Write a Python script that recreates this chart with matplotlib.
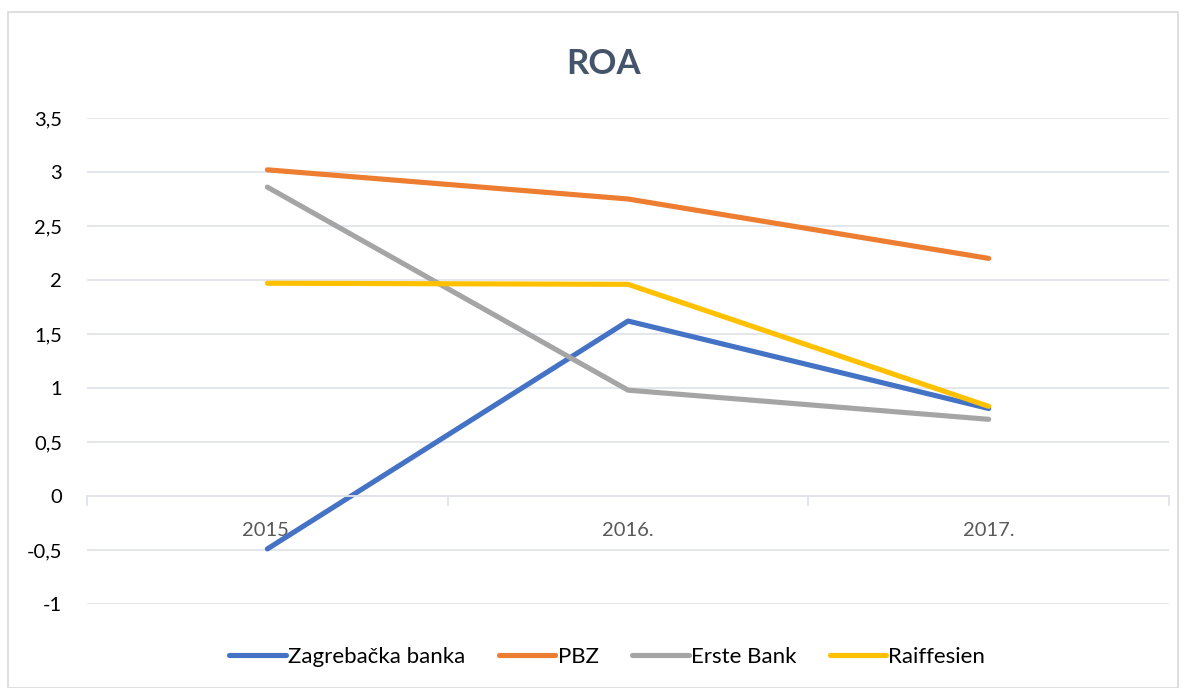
import matplotlib.pyplot as plt
from matplotlib.patches import Rectangle

plt.rcParams['font.family'] = ['Lato', 'DejaVu Sans']

# podaci
godine = ['2015.', '2016.', '2017.']
zaba = [-0.49, 1.62, 0.81]
pbz = [3.02, 2.75, 2.20]
erste = [2.86, 0.98, 0.71]
raiffeisen = [1.97, 1.96, 0.83]

serije = [
    ('Zagrebačka banka', zaba, '#4472C4'),
    ('PBZ', pbz, '#ED7D31'),
    ('Erste Bank', erste, '#A5A5A5'),
    ('Raiffesien', raiffeisen, '#FFC000'),
]

fig = plt.figure(figsize=(11.86, 6.88), dpi=100)
ax = fig.add_axes([0.0734, 0.1221, 0.9123, 0.7064])

# okvir oko grafikona
fig.patches.append(Rectangle((8 / 1186, 0), 1 - 16 / 1186, 1 - 12 / 688,
                             transform=fig.transFigure, fill=False,
                             edgecolor='#D9D9D9', linewidth=1.2))

x = list(range(len(godine)))
for naziv, vrijednosti, boja in serije:
    ax.plot(x, vrijednosti, color=boja, linewidth=3.7, solid_capstyle='round',
            solid_joinstyle='round', label=naziv)

ax.set_xlim(-0.5, len(godine) - 0.5)
ax.set_ylim(-1, 3.5)
yt = [-1, -0.5, 0, 0.5, 1, 1.5, 2, 2.5, 3, 3.5]
ax.set_yticks(yt)
ax.set_yticklabels([('%g' % v).replace('.', ',') for v in yt], fontsize=14.5, color='#000000')
ax.tick_params(axis='y', length=0, pad=18)
ax.grid(axis='y', color='#E1E4E8', linewidth=1.3)
ax.set_axisbelow(True)

for s in ['top', 'right', 'left']:
    ax.spines[s].set_visible(False)
ax.spines['bottom'].set_position(('data', 0))
ax.spines['bottom'].set_color('#E1E4E8')
ax.spines['bottom'].set_linewidth(1.3)

ax.set_xticks([-0.5, 0.5, 1.5, 2.5])
ax.set_xticklabels([])
ax.tick_params(axis='x', which='major', length=7, color='#E1E4E8', width=1.3)
ax.set_xticks(x, minor=True)
ax.set_xticklabels(godine, minor=True, fontsize=14.5, color='#595959')
ax.tick_params(axis='x', which='minor', length=0, pad=19)

fig.text(0.509, 0.907, 'ROA', ha='center', va='center', fontsize=25,
         fontweight='bold', color='#44546A')

leg = fig.legend(loc='center', bbox_to_anchor=(0.512, 0.045), ncol=4, frameon=False,
                 fontsize=16, handlelength=2.55, handletextpad=0.1, columnspacing=1.5)
for h in leg.get_lines():
    h.set_solid_capstyle('round')

fig.savefig('out.png', dpi=100)
